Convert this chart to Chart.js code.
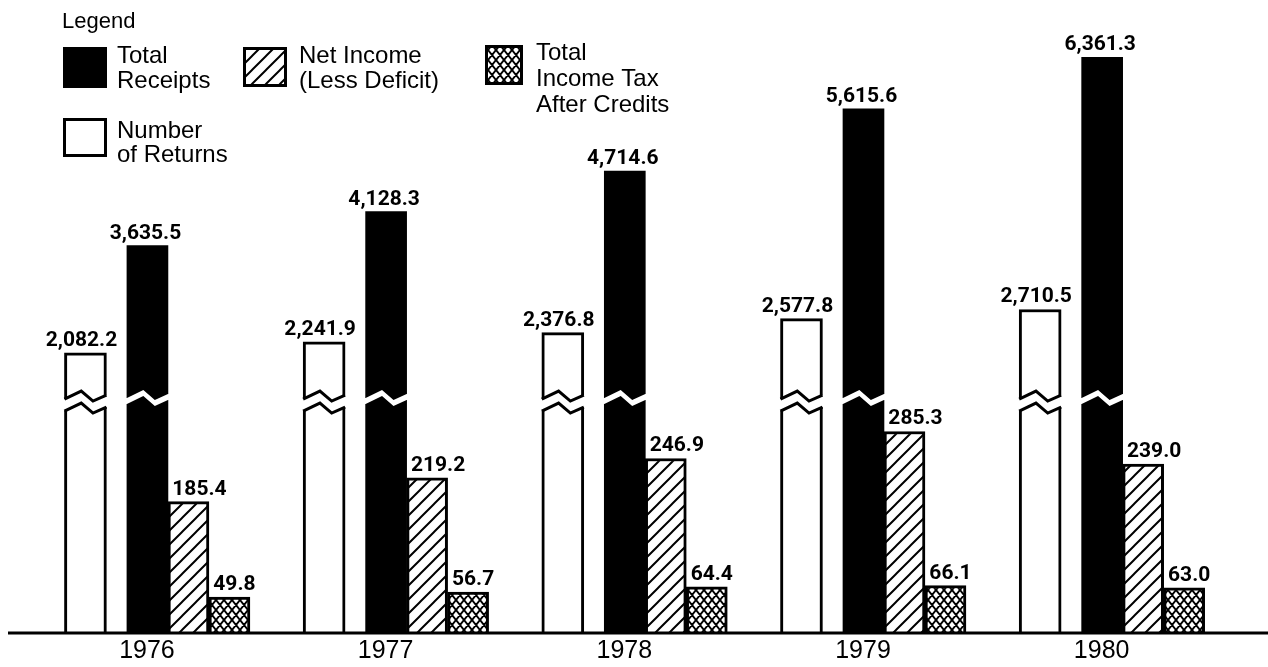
<!DOCTYPE html>
<html>
<head>
<meta charset="utf-8">
<script src="https://cdn.jsdelivr.net/npm/chart.js@4/dist/chart.umd.min.js"></script>
<style>
  html, body { margin: 0; padding: 0; background: #fff; }
  #vis { position: relative; width: 1268px; height: 667px; }
</style>
</head>
<body>
<div id="vis"><canvas id="myChart"></canvas></div>
<script>
// values in billions of dollars (returns in thousands)
const years = ['1976', '1977', '1978', '1979', '1980'];
const numberOfReturns = [2082.2, 2241.9, 2376.8, 2577.8, 2710.5];
const totalReceipts = [3635.5, 4128.3, 4714.6, 5615.6, 6361.3];
const netIncome = [185.4, 219.2, 246.9, 285.3, 239.0];
const incomeTax = [49.8, 56.7, 64.4, 66.1, 63.0];

// y axis is broken between these two values
const breakLow = 330;
const breakHigh = 1400;

// linear scale with a gap cut out of it
class BrokenScale extends Chart.LinearScale {
  getPixelForValue(value) {
    const o = this.options;
    let f;
    if (value <= o.breakLow) {
      f = (value - this.min) / (o.breakLow - this.min) * o.breakFrac;
    } else {
      const v = Math.max(value, o.breakHigh);
      f = o.breakFrac + (v - o.breakHigh) / (this.max - o.breakHigh) * (1 - o.breakFrac);
    }
    return this.getPixelForDecimal(f);
  }
  getValueForPixel(pixel) {
    const o = this.options;
    const f = this.getDecimalForPixel(pixel);
    if (f <= o.breakFrac) return this.min + f / o.breakFrac * (o.breakLow - this.min);
    return o.breakHigh + (f - o.breakFrac) / (1 - o.breakFrac) * (this.max - o.breakHigh);
  }
}
BrokenScale.id = 'broken';
BrokenScale.defaults = Chart.LinearScale.defaults;
Chart.register(BrokenScale);

const ctx = document.getElementById('myChart');
const ctx2d = ctx.getContext('2d');

function hatchPattern() {
  const c = document.createElement('canvas');
  c.width = 14; c.height = 14;
  const g = c.getContext('2d');
  g.fillStyle = '#fff';
  g.fillRect(0, 0, 14, 14);
  g.strokeStyle = '#000';
  g.lineWidth = 2;
  g.beginPath();
  g.moveTo(-7, 7); g.lineTo(7, -7);
  g.moveTo(0, 14); g.lineTo(14, 0);
  g.moveTo(7, 21); g.lineTo(21, 7);
  g.stroke();
  return ctx2d.createPattern(c, 'repeat');
}

function crossPattern() {
  const w = 8, h = 10;
  const c = document.createElement('canvas');
  c.width = w; c.height = h;
  const g = c.getContext('2d');
  g.fillStyle = '#fff';
  g.fillRect(0, 0, w, h);
  g.strokeStyle = '#000';
  g.lineWidth = 1.9;
  g.beginPath();
  for (let dx = -w; dx <= w; dx += w) {
    for (let dy = -h; dy <= h; dy += h) {
      g.moveTo(dx, dy); g.lineTo(dx + w, dy + h);
      g.moveTo(dx + w, dy); g.lineTo(dx, dy + h);
    }
  }
  g.stroke();
  return ctx2d.createPattern(c, 'repeat');
}

const fmt = v => v.toLocaleString('en-US', {minimumFractionDigits: 1, maximumFractionDigits: 1});

// zigzag cut across the broken bars
const breakMarks = {
  id: 'breakMarks',
  afterDatasetsDraw(chart) {
    const yScale = chart.scales.y;
    const by = yScale.getPixelForDecimal(yScale.options.breakFrac);
    const zig = [[0, 1], [0.4, -7], [0.68, 3], [1, -3]];
    const c = chart.ctx;
    const pts = (x0, x1, off) => zig.map(p => [x0 + p[0] * (x1 - x0), by + off + p[1]]);
    const band = (x0, x1, top, bot, ext) => {
      c.beginPath();
      c.moveTo(x0 - ext, top[0][1]);
      top.forEach(p => c.lineTo(p[0], p[1]));
      c.lineTo(x1 + ext, top[top.length - 1][1]);
      c.lineTo(x1 + ext, bot[bot.length - 1][1]);
      bot.slice().reverse().forEach(p => c.lineTo(p[0], p[1]));
      c.lineTo(x0 - ext, bot[0][1]);
      c.closePath();
      c.fill();
    };
    c.save();
    chart.data.datasets.forEach((ds, i) => {
      if (!ds.broken) return;
      chart.getDatasetMeta(i).data.forEach((bar, j) => {
        if (ds.data[j] <= yScale.options.breakLow) return;
        const p = bar.getProps(['x', 'width'], true);
        const x0 = p.x - p.width / 2, x1 = p.x + p.width / 2;
        c.fillStyle = '#fff';
        if (ds.borderWidth) {
          const top = pts(x0, x1, -2), bot = pts(x0, x1, 10);
          band(x0, x1, top, bot, 3);
          c.strokeStyle = '#000';
          c.lineWidth = 3;
          c.lineJoin = 'miter';
          [top, bot].forEach(line => {
            c.beginPath();
            line.forEach((q, k) => k ? c.lineTo(q[0], q[1]) : c.moveTo(q[0], q[1]));
            c.stroke();
          });
        } else {
          band(x0, x1, pts(x0, x1, -3), pts(x0, x1, 3), 1);
        }
      });
    });
    // base line
    const y0 = yScale.getPixelForValue(0) + 1;
    c.strokeStyle = '#000';
    c.lineWidth = 3;
    c.beginPath();
    c.moveTo(8, y0);
    c.lineTo(chart.width, y0);
    c.stroke();
    c.restore();
  }
};

const valueLabels = {
  id: 'valueLabels',
  afterDatasetsDraw(chart) {
    const c = chart.ctx;
    c.save();
    c.font = 'bold 21px Roboto';
    c.fillStyle = '#000';
    c.textAlign = 'center';
    c.textBaseline = 'alphabetic';
    chart.data.datasets.forEach((ds, i) => {
      chart.getDatasetMeta(i).data.forEach((bar, j) => {
        const p = bar.getProps(['x', 'y'], true);
        c.fillText(fmt(ds.data[j]), p.x + (ds.labelShift || 0), p.y - 7);
      });
    });
    c.restore();
  }
};

// legend boxes in the top left, same order as datasets
const legendSpots = [
  {box: [63, 118, 44, 39], x: 117, y: 138, lh: 24},
  {box: [63, 47, 44, 41], x: 117, y: 63, lh: 25},
  {box: [243, 47, 44, 40], x: 299, y: 63, lh: 25},
  {box: [485, 45, 38, 40], x: 536, y: 60, lh: 26}
];

const boxLegend = {
  id: 'boxLegend',
  afterDraw(chart) {
    const c = chart.ctx;
    c.save();
    c.fillStyle = '#000';
    c.textAlign = 'left';
    c.textBaseline = 'alphabetic';
    c.font = '22px "Liberation Sans", Arial, sans-serif';
    c.fillText('Legend', 62, 28);
    c.font = '24px "Liberation Sans", Arial, sans-serif';
    chart.data.datasets.forEach((ds, i) => {
      const s = legendSpots[i];
      const [bx, by, bw, bh] = s.box;
      c.fillStyle = ds.backgroundColor;
      c.fillRect(bx, by, bw, bh);
      c.strokeStyle = '#000';
      c.lineWidth = 3;
      c.strokeRect(bx + 1.5, by + 1.5, bw - 3, bh - 3);
      c.fillStyle = '#000';
      ds.label.forEach((line, k) => c.fillText(line, s.x, s.y + k * s.lh));
    });
    c.restore();
  }
};

const myChart = new Chart(ctx, {
  type: 'bar',
  data: {
    labels: years,
    datasets: [{
      label: ['Number', 'of Returns'],
      data: numberOfReturns,
      backgroundColor: '#fff',
      borderColor: '#000',
      borderWidth: 3,
      barThickness: 55,
      maxBarThickness: 42,
      broken: true,
      labelShift: -4
    }, {
      label: ['Total', 'Receipts'],
      data: totalReceipts,
      backgroundColor: '#000',
      borderWidth: 0,
      barThickness: 41,
      broken: true,
      labelShift: -2
    }, {
      label: ['Net Income', '(Less Deficit)'],
      data: netIncome,
      backgroundColor: hatchPattern(),
      borderColor: '#000',
      borderWidth: 3,
      barThickness: 41,
      labelShift: 11
    }, {
      label: ['Total', 'Income Tax', 'After Credits'],
      data: incomeTax,
      backgroundColor: crossPattern(),
      borderColor: '#000',
      borderWidth: 3,
      barThickness: 41,
      labelShift: 5
    }]
  },
  options: {
    responsive: true,
    maintainAspectRatio: false,
    devicePixelRatio: 1,
    animation: false,
    layout: {
      padding: {left: 48.6, right: 26, top: 20, bottom: 0}
    },
    plugins: {
      legend: {display: false},
      tooltip: {enabled: false}
    },
    scales: {
      x: {
        grid: {display: false, drawTicks: false},
        border: {display: false},
        ticks: {
          color: '#000',
          font: {family: '"Liberation Sans", Arial, sans-serif', size: 25},
          padding: 4,
          labelOffset: -21,
          maxRotation: 0,
          autoSkip: false
        },
        afterFit: scale => { scale.height = 35; }
      },
      y: {
        type: 'broken',
        display: false,
        min: 0,
        max: 6900,
        breakLow: breakLow,
        breakHigh: breakHigh,
        breakFrac: 0.379
      }
    }
  },
  plugins: [breakMarks, valueLabels, boxLegend]
});
</script>
</body>
</html>
